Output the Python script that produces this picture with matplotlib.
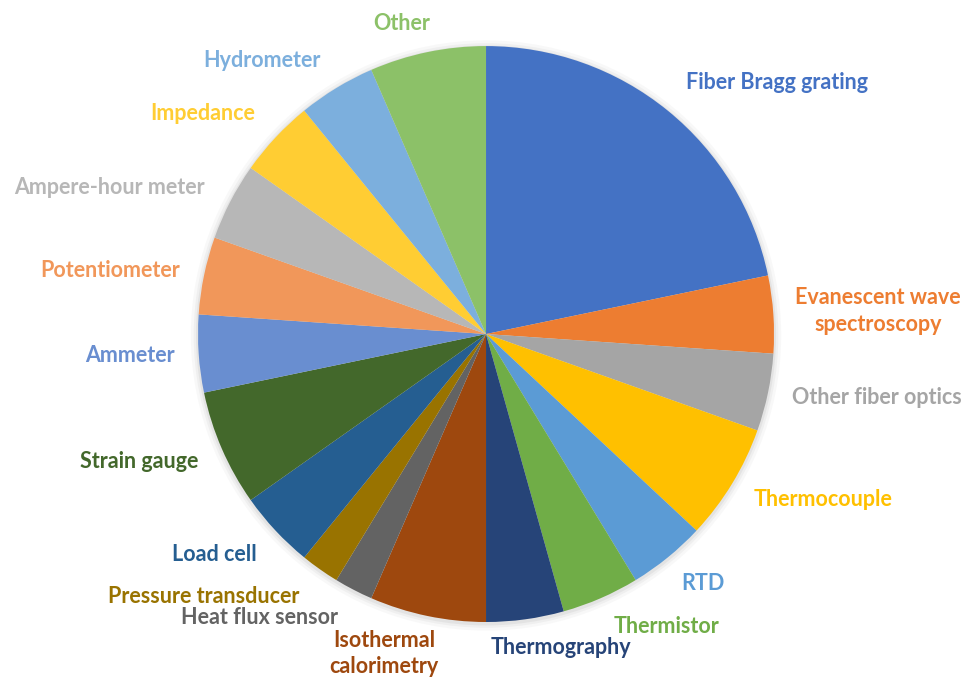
import matplotlib.pyplot as plt
from matplotlib.patches import Circle

labels = ['Fiber Bragg grating', 'Evanescent wave\nspectroscopy', 'Other fiber optics',
          'Thermocouple', 'RTD', 'Thermistor', 'Thermography', 'Isothermal\ncalorimetry',
          'Heat flux sensor', 'Pressure transducer', 'Load cell', 'Strain gauge',
          'Ammeter', 'Potentiometer', 'Ampere-hour meter', 'Impedance', 'Hydrometer', 'Other']
counts = [10, 2, 2, 3, 2, 2, 2, 3, 1, 1, 2, 3, 2, 2, 2, 2, 2, 3]
colors = ['#4472C4', '#ED7D31', '#A5A5A5', '#FFC000', '#5B9BD5', '#70AD47',
          '#264478', '#9E480E', '#636363', '#997300', '#255E91', '#43682B',
          '#698ED0', '#F1975A', '#B7B7B7', '#FFCD33', '#7CAFDD', '#8CC168']

# label centres (pie radius = 1)
label_pos = [(1.010, 0.872), (1.361, 0.080), (1.358, -0.222), (1.170, -0.573),
             (0.753, -0.865), (0.628, -1.014), (0.260, -1.087), (-0.354, -1.108),
             (-0.788, -0.986), (-0.979, -0.913), (-0.944, -0.767), (-1.205, -0.444),
             (-1.236, -0.073), (-1.306, 0.222), (-1.306, 0.510), (-0.983, 0.767),
             (-0.778, 0.951), (-0.292, 1.080)]

fig = plt.figure(figsize=(9.67, 6.77), dpi=100)
ax = fig.add_axes([0, 0, 1, 1])

# soft shadow
for r, a in [(1.025, 0.05), (1.015, 0.07), (1.007, 0.10)]:
    ax.add_patch(Circle((0, -0.005), r, color='gray', alpha=a, lw=0, zorder=0))

ax.pie(counts, colors=colors, startangle=90, counterclock=False, radius=1,
       wedgeprops=dict(linewidth=0))

for lab, (x, y), c in zip(labels, label_pos, colors):
    ax.text(x, y, lab, color=c, ha='center', va='center', fontsize=15.5,
            fontweight='bold', family='Lato', linespacing=1.3)

ax.set_xlim(-1.6875, 1.670)
ax.set_ylim(-1.191, 1.160)
ax.set_aspect('auto')
ax.axis('off')

plt.savefig('out.png', dpi=100)
